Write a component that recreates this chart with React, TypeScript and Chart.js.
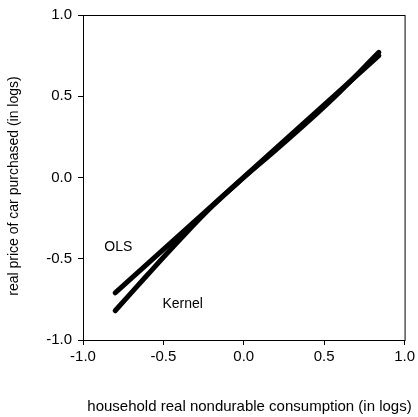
import React, { useEffect, useRef } from "react";
import { Chart, registerables } from "chart.js";

Chart.register(...registerables);

const olsX = [-0.8, 0.84];
const olsY = [-0.71, 0.75];
const kernelX = [-0.8, -0.6, -0.4, -0.2, 0.0, 0.2, 0.4, 0.6, 0.84];
const kernelY = [-0.82, -0.6, -0.385, -0.18, 0.0, 0.17, 0.345, 0.53, 0.77];
const tickValues = [-1.0, -0.5, 0.0, 0.5, 1.0];
const xTitle = "household real nondurable consumption (in logs)";
const yTitle = "real price of car purchased (in logs)";
const labels = [
  { text: "OLS", x: -0.78, y: -0.43 },
  { text: "Kernel", x: -0.38, y: -0.78 },
];

const FONT = "'Liberation Sans', Arial, Helvetica, sans-serif";

export default function App() {
  const ref = useRef<HTMLCanvasElement | null>(null);
  useEffect(() => {
    const canvas = ref.current!;
    const overlay = {
      id: "overlay",
      afterDraw(chart: any) {
        const { ctx, chartArea, scales } = chart;
        ctx.save();
        ctx.strokeStyle = "#000";
        ctx.lineWidth = 1;
        ctx.strokeRect(chartArea.left + 0.5, chartArea.top + 0.5, chartArea.right - chartArea.left, chartArea.bottom - chartArea.top);
        ctx.fillStyle = "#000";
        ctx.font = `14px ${FONT}`;
        ctx.textAlign = "center";
        ctx.textBaseline = "middle";
        for (const l of labels) {
          ctx.fillText(l.text, scales.x.getPixelForValue(l.x), scales.y.getPixelForValue(l.y));
        }
        ctx.font = `15px ${FONT}`;
        ctx.fillText(xTitle, 249.5, 407);
        ctx.font = `14px ${FONT}`;
        ctx.translate(14, 186);
        ctx.rotate(-Math.PI / 2);
        ctx.fillText(yTitle, 0, 0);
        ctx.restore();
      },
    };
    const chart = new Chart(canvas, {
      type: "scatter",
      data: {
        datasets: [
          {
            label: "OLS",
            data: olsX.map((x, i) => ({ x, y: olsY[i] })),
            showLine: true,
            borderColor: "#000",
            borderWidth: 5,
            pointRadius: 0,
            borderCapStyle: "round",
          },
          {
            label: "Kernel",
            data: kernelX.map((x, i) => ({ x, y: kernelY[i] })),
            showLine: true,
            borderColor: "#000",
            borderWidth: 5,
            pointRadius: 0,
            tension: 0.4,
            borderCapStyle: "round",
          },
        ],
      },
      options: {
        animation: false,
        responsive: false,
        layout: { padding: { top: 15, right: 11, left: 0, bottom: 0 } },
        plugins: { legend: { display: false }, tooltip: { enabled: false } },
        scales: {
          x: {
            type: "linear",
            min: -1,
            max: 1,
            afterFit: (s: any) => { s.height = 77; },
            afterBuildTicks: (s: any) => { s.ticks = tickValues.map((v) => ({ value: v })); },
            ticks: {
              callback: (v: any) => Number(v).toFixed(1),
              color: "#000",
              font: { family: FONT, size: 15 },
              padding: 3,
              maxRotation: 0,
            },
            grid: { drawOnChartArea: false, drawTicks: true, tickLength: 5, color: "#000" },
            border: { display: true, color: "#000" },
          },
          y: {
            type: "linear",
            min: -1,
            max: 1,
            afterFit: (s: any) => { s.width = 83; },
            afterBuildTicks: (s: any) => { s.ticks = tickValues.map((v) => ({ value: v })); },
            ticks: {
              callback: (v: any) => Number(v).toFixed(1),
              color: "#000",
              font: { family: FONT, size: 15 },
              padding: 6,
            },
            grid: { drawOnChartArea: false, drawTicks: true, tickLength: 5, color: "#000" },
            border: { display: true, color: "#000" },
          },
        },
      },
      plugins: [overlay],
    } as any);
    return () => chart.destroy();
  }, []);
  return (
    <div style={{ position: "absolute", left: 0, top: 0, width: 418, height: 417, background: "#fff" }}>
      <canvas ref={ref} width={418} height={417} style={{ width: 418, height: 417 }} />
    </div>
  );
}
